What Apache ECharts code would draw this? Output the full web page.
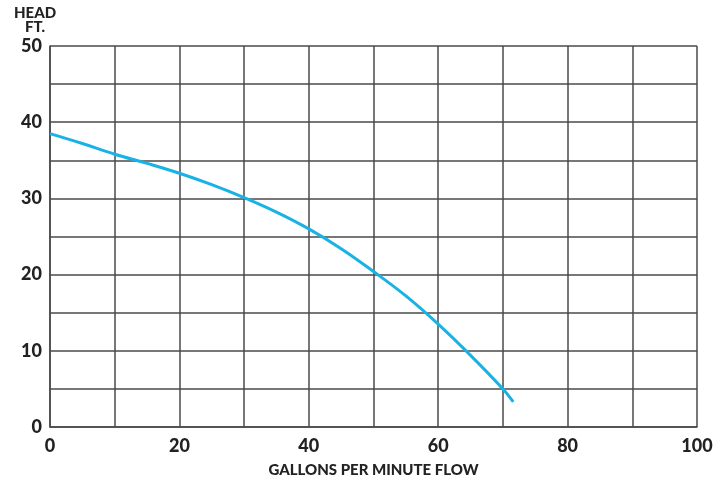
<!DOCTYPE html>
<html><head><meta charset="utf-8">
<script src="https://cdn.jsdelivr.net/npm/echarts@6/dist/echarts.min.js"></script>
<style>html,body{margin:0;padding:0;background:#fff}#c{width:722px;height:484px}</style>
</head><body><div id="c"></div>
<script>
const flowGpm = [0, 5, 10, 15, 20, 25, 30, 35, 40, 45, 50, 55, 60, 65, 70, 71.6];
const headFt = [38.5, 37.2, 35.8, 34.6, 33.3, 31.8, 30.1, 28.2, 26.0, 23.4, 20.4, 17.2, 13.5, 9.4, 5.0, 3.3];
const xTickLabels = ['0', '20', '40', '60', '80', '100'];
const yTickLabels = ['0', '10', '20', '30', '40', '50'];
const xTitle = 'GALLONS PER MINUTE FLOW';
const yTitle = 'HEAD\nFT.';

const chart = echarts.init(document.getElementById('c'));
const font = 'Lato, "Open Sans", sans-serif';
const gridColor = '#4a4a4a';
chart.setOption({
  animation: false,
  grid: {left: 50, right: 25, top: 46, bottom: 57},
  xAxis: {
    type: 'value', min: 0, max: 100, interval: 10,
    axisLine: {show: true, lineStyle: {color: gridColor, width: 1.5}},
    axisTick: {show: false},
    splitLine: {show: true, lineStyle: {color: gridColor, width: 1.5}},
    axisLabel: {
      margin: 10, color: '#222', fontFamily: font, fontWeight: 900, fontSize: 18,
      formatter: v => xTickLabels.includes(String(v)) ? String(v) : ''
    },
    name: xTitle, nameLocation: 'middle', nameGap: 36,
    nameTextStyle: {color: '#222', fontFamily: font, fontWeight: 900, fontSize: 15}
  },
  yAxis: {
    type: 'value', min: 0, max: 50, interval: 5,
    axisLine: {show: true, lineStyle: {color: gridColor, width: 1.5}},
    axisTick: {show: false},
    splitLine: {show: true, lineStyle: {color: gridColor, width: 1.5}},
    axisLabel: {
      margin: 8, color: '#222', fontFamily: font, fontWeight: 900, fontSize: 18,
      formatter: v => yTickLabels.includes(String(v)) ? String(v) : ''
    }
  },
  graphic: [{
    type: 'text', left: 14, top: 6,
    style: {text: yTitle, fill: '#222', font: '900 15px ' + font, textAlign: 'center', lineHeight: 14}
  }],
  series: [{
    type: 'line', data: flowGpm.map((x, i) => [x, headFt[i]]),
    smooth: 0.4, showSymbol: false,
    lineStyle: {color: '#19b2e4', width: 3}
  }]
});
</script></body></html>
